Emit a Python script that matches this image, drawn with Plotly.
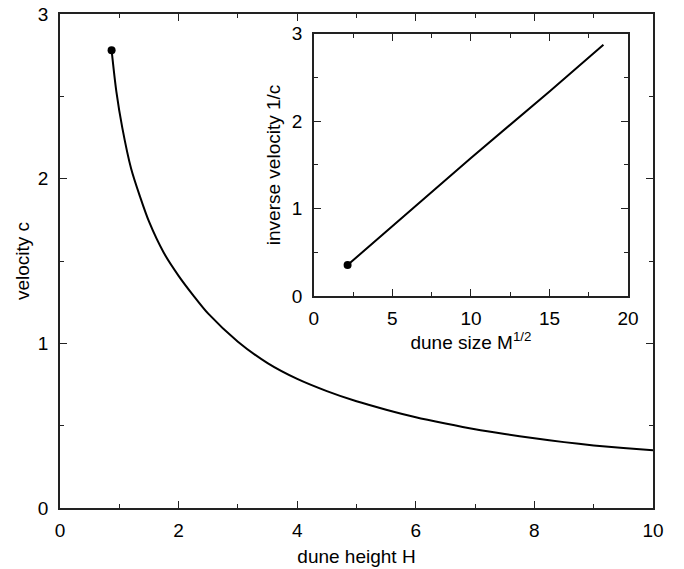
import plotly.graph_objects as go

# main curve: velocity c vs dune height H
H = [0.87, 0.95, 1.05, 1.2, 1.35, 1.5, 1.75, 2.0, 2.25, 2.5, 3.0, 3.5, 4.0, 4.5, 5.0, 5.5, 6.0, 6.5, 7.0, 7.5, 8.0, 8.5, 9.0, 9.5, 10.0]
c = [2.78, 2.53, 2.31, 2.06, 1.89, 1.74, 1.55, 1.41, 1.29, 1.18, 1.01, 0.88, 0.784, 0.71, 0.648, 0.597, 0.551, 0.513, 0.478, 0.449, 0.423, 0.400, 0.380, 0.364, 0.350]

# inset: inverse velocity vs sqrt(M)
sqrtM = [2.15, 5.0, 10.0, 15.0, 18.43]
inv_c = [0.355, 0.80, 1.58, 2.34, 2.875]

main_xticks = [0, 2, 4, 6, 8, 10]
main_yticks = [0, 1, 2, 3]
inset_xticks = [0, 5, 10, 15, 20]
inset_yticks = [0, 1, 2, 3]

FONT = "Liberation Sans, Arial, sans-serif"
AX = "#222"
FS = 19

fig = go.Figure()
fig.add_trace(go.Scatter(x=H, y=c, mode="lines", line=dict(color="black", width=2, shape="spline", smoothing=0.8),
                         xaxis="x", yaxis="y", showlegend=False))
fig.add_trace(go.Scatter(x=[H[0]], y=[c[0]], mode="markers", marker=dict(color="black", size=8),
                         xaxis="x", yaxis="y", showlegend=False))
fig.add_trace(go.Scatter(x=sqrtM, y=inv_c, mode="lines", line=dict(color="black", width=2),
                         xaxis="x2", yaxis="y2", showlegend=False))
fig.add_trace(go.Scatter(x=[sqrtM[0]], y=[inv_c[0]], mode="markers", marker=dict(color="black", size=8),
                         xaxis="x2", yaxis="y2", showlegend=False))

common = dict(showgrid=False, zeroline=False, showline=True, linecolor=AX, linewidth=1.5,
              ticks="inside", ticklen=7, tickwidth=1, tickcolor=AX, mirror="allticks",
              automargin=False, ticklabeloverflow="allow",
              tickfont=dict(size=FS, color="black", family=FONT))

fig.update_layout(
    width=684, height=569,
    margin=dict(l=60, r=31, t=14, b=61),
    paper_bgcolor="white", plot_bgcolor="white",
    font=dict(family=FONT, color="black", size=FS),
    xaxis=dict(range=[0, 10], tickvals=main_xticks, domain=[0, 1], ticklabelstandoff=4,
               minor=dict(ticks="inside", ticklen=4, dtick=1, tick0=0, tickcolor=AX),
               title=dict(text="dune height H", font=dict(size=FS), standoff=10), **common),
    yaxis=dict(range=[0, 3], tickvals=main_yticks, domain=[0, 1], ticklabelstandoff=6,
               minor=dict(ticks="inside", ticklen=4, dtick=0.5, tick0=0, tickcolor=AX),
               title=dict(text="velocity c", font=dict(size=FS), standoff=3), **common),
    xaxis2=dict(range=[0, 20], tickvals=inset_xticks, domain=[0.428, 0.958], anchor="y2", ticklabelstandoff=4,
                minor=dict(ticks="inside", ticklen=4, dtick=2.5, tick0=0, tickcolor=AX),
                title=dict(text="dune size M<sup>1/2</sup>", font=dict(size=FS), standoff=4), **common),
    yaxis2=dict(range=[0, 3], tickvals=inset_yticks, domain=[0.429, 0.960], anchor="x2", ticklabelstandoff=6,
                minor=dict(ticks="inside", ticklen=4, dtick=0.5, tick0=0, tickcolor=AX),
                title=dict(text="inverse velocity 1/c", font=dict(size=FS), standoff=6), **common),
)

fig.write_html("out.html", config={"displayModeBar": False},
               post_script="document.body.style.margin='0';")
